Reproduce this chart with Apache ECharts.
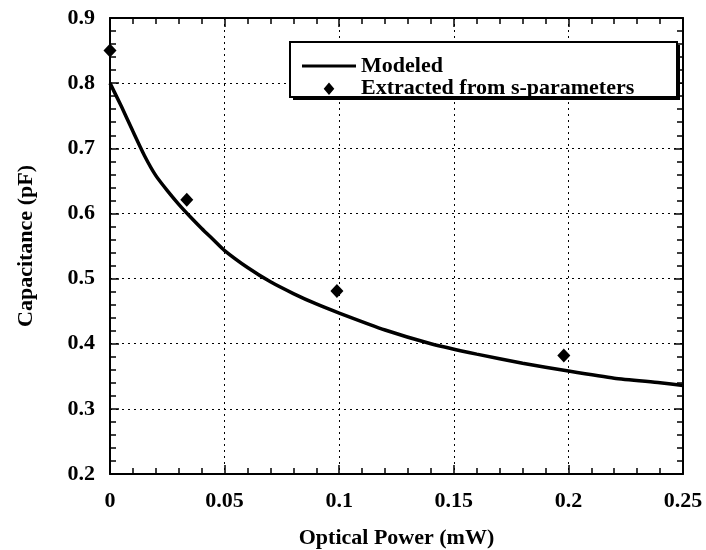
<!DOCTYPE html>
<html>
<head>
<meta charset="utf-8">
<script src="https://cdn.jsdelivr.net/npm/echarts@6/dist/echarts.min.js"></script>
<style>html,body{margin:0;padding:0;background:#fff}#c{width:706px;height:550px}</style>
</head>
<body>
<div id="c"></div>
<script>
// Modeled curve
const modelX = [0, 0.005, 0.01, 0.015, 0.02, 0.025, 0.03, 0.035, 0.04, 0.045, 0.05, 0.06, 0.07, 0.08, 0.09, 0.1, 0.12, 0.14, 0.16, 0.18, 0.2, 0.22, 0.24, 0.25];
const modelY = [0.80, 0.764, 0.726, 0.689, 0.658, 0.635, 0.614, 0.595, 0.577, 0.560, 0.543, 0.517, 0.495, 0.477, 0.461, 0.447, 0.421, 0.400, 0.384, 0.370, 0.358, 0.347, 0.340, 0.336];
// Extracted points
const extX = [0, 0.0335, 0.099, 0.198];
const extY = [0.85, 0.621, 0.481, 0.382];
const xTickLabels = ['0', '0.05', '0.1', '0.15', '0.2', '0.25'];
const yTickLabels = ['0.2', '0.3', '0.4', '0.5', '0.6', '0.7', '0.8', '0.9'];
const seriesNames = ['Modeled', 'Extracted from s-parameters'];
const xName = 'Optical Power (mW)';
const yName = 'Capacitance (pF)';

const FONT = 'Liberation Serif';
const chart = echarts.init(document.getElementById('c'), null, {renderer: 'canvas'});
const xMin = 0, xMax = 0.25, xInt = 0.05;
const yMin = 0.2, yMax = 0.9, yInt = 0.1;
function fmtX(v) { const i = Math.round((v - xMin) / xInt); return xTickLabels[i] !== undefined ? xTickLabels[i] : ''; }
function fmtY(v) { const i = Math.round((v - yMin) / yInt); return yTickLabels[i] !== undefined ? yTickLabels[i] : ''; }

const axisLine = {show: true, onZero: false, lineStyle: {color: '#000', width: 2}};
const axisTick = {show: true, inside: true, length: 9, lineStyle: {color: '#000', width: 1.5}};
const minorTick = {show: true, splitNumber: 5, length: 6, lineStyle: {color: '#000', width: 1.5}};
const splitLine = {show: true, lineStyle: {color: '#000', width: 1, type: [2, 4]}};
const labelStyle = {color: '#000', fontFamily: FONT, fontWeight: 'bold', fontSize: 22};

const option = {
  backgroundColor: '#fff',
  animation: false,
  grid: {left: 110, top: 18, right: 23, bottom: 76, containLabel: false, outerBoundsMode: 'none'},
  graphic: [
    {type: 'rect', z: 10, shape: {x: 293, y: 45, width: 387, height: 55}, style: {fill: '#000'}},
    {type: 'rect', z: 11, shape: {x: 290, y: 42, width: 387, height: 55}, style: {fill: '#fff', stroke: '#000', lineWidth: 2}}
  ],
  legend: {
    orient: 'vertical',
    left: 302, top: 55,
    padding: 0,
    itemGap: 0,
    itemWidth: 54,
    itemHeight: 14,
    z: 20,
    textStyle: {color: '#000', fontFamily: FONT, fontWeight: 'bold', fontSize: 22, lineHeight: 20},
    data: [
      {name: seriesNames[0], icon: 'path://M0,0L54,0L54,3L0,3Z'},
      {name: seriesNames[1], icon: 'path://M0,0L0.01,0L0,0.01Z M54,14L53.99,14L54,13.99Z M27,1.5L32.5,8L27,14.5L21.5,8Z'}
    ]
  },
  xAxis: [{
    type: 'value', min: xMin, max: xMax, interval: xInt, position: 'bottom',
    name: xName, nameLocation: 'middle', nameGap: 53,
    nameTextStyle: {color: '#000', fontFamily: FONT, fontWeight: 'bold', fontSize: 22},
    axisLine, axisTick, minorTick, splitLine,
    axisLabel: Object.assign({margin: 16, formatter: fmtX}, labelStyle)
  }, {
    type: 'value', min: xMin, max: xMax, interval: xInt, position: 'top',
    axisLine, axisTick, minorTick, splitLine: {show: false},
    axisLabel: {show: false}
  }],
  yAxis: [{
    type: 'value', min: yMin, max: yMax, interval: yInt, position: 'left',
    name: yName, nameLocation: 'middle', nameGap: 73,
    nameTextStyle: {color: '#000', fontFamily: FONT, fontWeight: 'bold', fontSize: 22},
    axisLine, axisTick, minorTick, splitLine,
    axisLabel: Object.assign({margin: 15, formatter: fmtY}, labelStyle)
  }, {
    type: 'value', min: yMin, max: yMax, interval: yInt, position: 'right',
    axisLine, axisTick, minorTick, splitLine: {show: false},
    axisLabel: {show: false}
  }],
  series: [{
    name: seriesNames[0],
    type: 'line',
    smooth: 0.2,
    showSymbol: false,
    symbol: 'none',
    lineStyle: {color: '#000', width: 3.5},
    itemStyle: {color: '#000'},
    data: modelX.map((x, i) => [x, modelY[i]]),
    z: 3
  }, {
    name: seriesNames[1],
    type: 'scatter',
    symbol: 'diamond',
    symbolSize: [13, 14],
    itemStyle: {color: '#000', opacity: 1},
    data: extX.map((x, i) => [x, extY[i]]),
    clip: false,
    z: 4
  }]
};
chart.setOption(option);
</script>
</body>
</html>
